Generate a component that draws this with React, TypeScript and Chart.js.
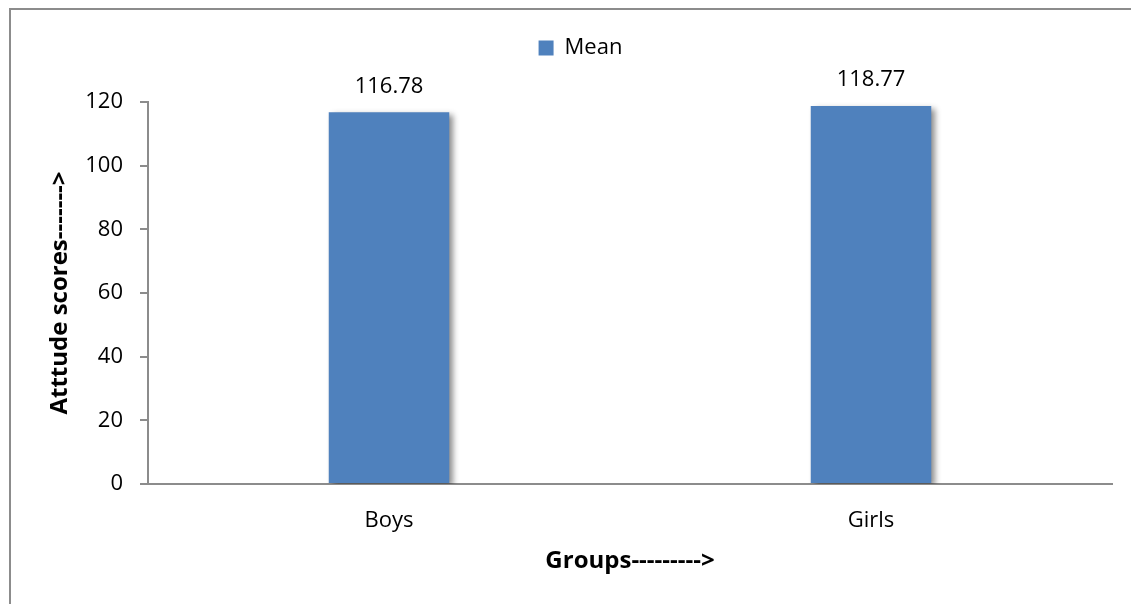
import React, { useEffect, useRef } from "react";
import { Chart, registerables } from "chart.js";

Chart.register(...registerables);

const categories = ["Boys", "Girls"];
const meanValues = [116.78, 118.77];
const seriesName = "Mean";
const yTicks = [0, 20, 40, 60, 80, 100, 120];
const yTitle = "Atttude scores------->";
const xTitle = "Groups--------->";

const FONT = "'Open Sans', 'Noto Sans', sans-serif";

export default function App() {
  const ref = useRef<HTMLCanvasElement | null>(null);

  useEffect(() => {
    if (!ref.current) return;
    const framePlugin = {
      id: "frame",
      beforeDraw(chart: any) {
        const ctx = chart.ctx;
        ctx.save();
        ctx.fillStyle = "#ffffff";
        ctx.fillRect(0, 0, chart.width, chart.height);
        ctx.strokeStyle = "#8c8c8c";
        ctx.lineWidth = 2;
        ctx.strokeRect(10, 9, 1300, 800);
        ctx.restore();
      },
    };
    const legendSpacer = {
      id: "legendSpacer",
      afterInit(chart: any) {
        const legend = chart.legend;
        if (!legend) return;
        const orig = legend.fit;
        legend.fit = function () {
          orig.call(this);
          this.height = 75;
        };
      },
    };
    const barDeco = {
      id: "barDeco",
      beforeDatasetsDraw(chart: any) {
        const ctx = chart.ctx;
        ctx.save();
        ctx.shadowColor = "rgba(0,0,0,0.45)";
        ctx.shadowBlur = 6;
        ctx.shadowOffsetX = 4;
        ctx.shadowOffsetY = 3;
      },
      afterDatasetsDraw(chart: any) {
        const ctx = chart.ctx;
        ctx.restore();
        ctx.save();
        ctx.fillStyle = "#000000";
        ctx.font = `22px ${FONT}`;
        ctx.textAlign = "center";
        ctx.textBaseline = "middle";
        const meta = chart.getDatasetMeta(0);
        meta.data.forEach((el: any, i: number) => {
          const v = chart.data.datasets[0].data[i] as number;
          ctx.fillText(v.toFixed(2), el.x, el.y - 26);
        });
        ctx.restore();
      },
    };

    const chart = new Chart(ref.current, {
      type: "bar",
      data: {
        labels: categories,
        datasets: [
          {
            label: seriesName,
            data: meanValues,
            backgroundColor: "#4f81bd",
            borderWidth: 0,
            barPercentage: 1,
            categoryPercentage: 0.25,
          },
        ],
      },
      options: {
        responsive: false,
        animation: false,
        devicePixelRatio: 1,
        layout: { padding: { left: 49, right: 19, top: 27, bottom: 0 } },
        plugins: {
          tooltip: { enabled: false },
          legend: {
            display: true,
            position: "top",
            labels: {
              boxWidth: 15,
              boxHeight: 15,
              padding: 10,
              color: "#000000",
              font: { family: FONT, size: 22 },
            },
          },
        },
        scales: {
          x: {
            afterFit(scale: any) {
              scale.height = 120;
            },
            grid: { display: false, drawTicks: false },
            border: { display: true, color: "#8c8c8c", width: 2 },
            ticks: {
              color: "#000000",
              padding: 24,
              font: { family: FONT, size: 22 },
            },
            title: {
              display: true,
              text: xTitle,
              color: "#000000",
              font: { family: FONT, size: 24, weight: "bold" },
              padding: { top: 0, bottom: 28 },
            },
          },
          y: {
            min: 0,
            max: 120,
            afterFit(scale: any) {
              scale.width = 99;
            },
            afterBuildTicks(scale: any) {
              scale.ticks = yTicks.map((v) => ({ value: v }));
            },
            grid: {
              drawOnChartArea: false,
              drawTicks: true,
              tickLength: 8,
              color: "#8c8c8c",
              lineWidth: 2,
            },
            border: { display: true, color: "#8c8c8c", width: 2 },
            ticks: {
              color: "#000000",
              padding: 17,
              font: { family: FONT, size: 22 },
            },
            title: {
              display: true,
              text: yTitle,
              color: "#000000",
              font: { family: FONT, size: 24, weight: "bold" },
              padding: { top: -3, bottom: 0 },
            },
          },
        },
      },
      plugins: [framePlugin, legendSpacer, barDeco],
    });
    return () => chart.destroy();
  }, []);

  return (
    <div style={{ position: "absolute", left: 0, top: 0, width: 1131, height: 604 }}>
      <canvas ref={ref} width={1131} height={604} style={{ display: "block" }} />
    </div>
  );
}
